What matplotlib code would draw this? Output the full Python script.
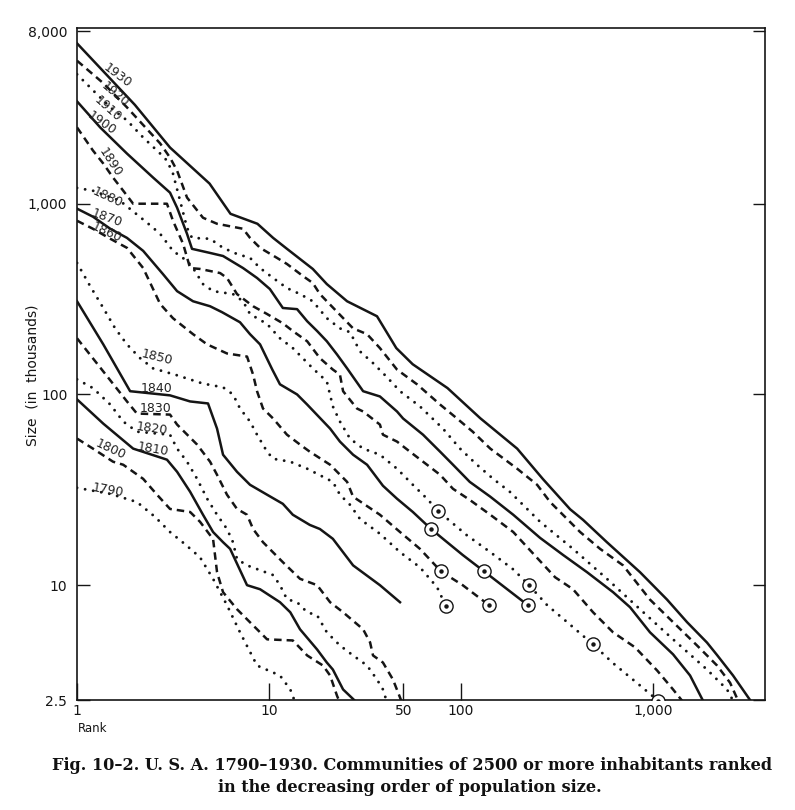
import matplotlib
matplotlib.use('Agg')
import matplotlib.pyplot as plt
from matplotlib.ticker import FixedLocator, FixedFormatter, NullLocator

# rank of community / size in thousands
rank_1930 = [1, 2.0, 3.05, 4.9, 6.3, 8.7, 10.5, 12.4, 16.9, 20, 25.5, 36.5, 46, 56, 85, 126, 196, 267,
             370, 432, 575, 855, 1183, 1503, 1910, 2155, 2610, 3200]
size_1930 = [6930, 3300, 1970, 1275, 885, 785, 662, 580, 455, 379, 308, 257, 175, 144, 108, 75, 52, 36,
             25, 22, 16.8, 11.7, 8.4, 6.4, 5.0, 4.3, 3.36, 2.5]

rank_1920 = [1, 1.37, 1.82, 2.71, 3.05, 3.32, 3.74, 4.53, 5.36, 7.32, 7.96, 8.98, 11.0, 12.4, 15.0, 16.9,
             18.4, 20.0, 27.4, 32.4, 37.8, 46.4, 59.0, 77.8, 95.3, 115, 142, 196, 249, 291, 328, 417, 530,
             698, 964, 1271, 1694, 2155, 2518, 2773]
size_1920 = [5620, 4285, 3200, 2070, 1745, 1490, 1077, 844, 785, 739, 662, 587, 520, 483, 418, 384,
             336, 308, 222, 207, 175, 135, 113, 88.5, 74.8, 63.8, 52, 40.8, 33.6, 27.3, 24.2, 19.0, 15.5,
             12.7, 8.4, 6.4, 4.83, 3.79, 3.08, 2.48]

rank_1910 = [1, 1.21, 1.49, 1.82, 2.21, 2.71, 2.94, 3.16, 3.44, 3.74, 3.97, 4.93, 5.76, 6.81, 7.96, 8.98,
             10.5, 12.4, 14.5, 16.9, 20.0, 23.4, 26.4, 29.8, 34.8, 41.2, 48.1, 61.1, 80.5, 98.8, 121, 147,
             180, 210, 258, 383, 575, 855, 1271, 1910, 2428, 2610]
size_1910 = [4770, 3935, 3200, 2735, 2225, 1832, 1683, 1438, 1038, 748, 662, 655, 587, 545, 520, 460,
             408, 361, 336, 308, 251, 222, 212, 168, 146, 123, 104, 86.5, 66.2, 52, 42.8, 36.1,
             30.8, 26.4, 21.5, 15.5, 10.8, 7.48, 5.2, 3.61, 2.84, 2.48]

rank_1900 = [1, 1.32, 1.82, 2.49, 3.05, 3.32, 3.74, 3.97, 4.93, 5.76, 7.32, 8.66, 10.1, 11.8, 14.0, 15.8,
             17.8, 20.0, 22.6, 25.5, 30.9, 37.8, 46.4, 49.9, 63.4, 77.8, 90.8, 111, 142, 187, 258, 340,
             453, 619, 759, 964, 1271, 1559, 1820]
size_1900 = [3440, 2512, 1832, 1371, 1143, 953, 695, 580, 552, 532, 460, 408, 357, 284, 280, 242,
             215, 190, 162, 137, 104, 97.6, 81.4, 74.8, 61.5, 50.1, 42.8, 34.8, 29.1, 23.4, 17.7, 14.4,
             11.7, 9.19, 7.66, 5.66, 4.34, 3.36, 2.48]

rank_1890 = [1, 1.21, 1.37, 1.54, 1.74, 1.96, 2.94, 3.16, 3.57, 3.88, 4.37, 5.56, 6.04, 6.81, 8.26, 9.77,
             11.8, 13.3, 15.8, 18.4, 21.5, 23.4, 24.3, 28.7, 30.9, 37.8, 39.2, 46.4, 54.2, 66.5, 77.8,
             90.8, 111, 142, 187, 249, 309, 383, 487, 619, 806, 1050, 1271, 1416]
size_1890 = [2512, 1901, 1624, 1371, 1170, 1000, 1000, 814, 615, 460, 455, 433, 408, 336, 290, 264,
             236, 215, 190, 155, 135, 127, 104, 84.4, 81.4, 69.5, 61.5, 56.6, 50.1, 42.8, 37.9,
             32, 28, 23.4, 19.0, 13.9, 11.0, 9.52, 7.21, 5.66, 4.72, 3.57, 2.84, 2.48]

rank_1880 = [1, 1.21, 1.67, 2.32, 2.71, 3.16, 3.74, 4.02, 4.53, 5.11, 6.49, 7.32, 7.96, 9.77, 11.4, 13.3,
             16.9, 20.0, 21.5, 23.4, 26.4, 30.9, 37.8, 46.4, 56.1, 66.5, 75.9, 107, 142, 187, 226, 281,
             357, 487, 619, 855, 1062]
size_1880 = [1210, 1170, 1038, 794, 695, 566, 501, 460, 379, 348, 336, 308, 264, 234, 197, 175,
             137, 117, 86.5, 72.1, 58.7, 52, 48.3, 40.8, 33.6, 28.4, 24.5, 18.3, 14.9, 12.1, 10, 7.85,
             6.4, 4.89, 3.9, 2.98, 2.48]

rank_1870 = [1, 1.21, 1.49, 1.82, 2.21, 2.80, 3.32, 4.02, 4.93, 5.69, 7.06, 7.96, 8.98, 10.4, 11.4, 14.0,
             15.8, 20.8, 23.4, 27.4, 32.4, 39.2, 46.4, 56.1, 69.8, 84.6, 102, 132, 174, 223]
size_1870 = [942, 855, 739, 662, 566, 428, 348, 308, 290, 270, 239, 207, 183, 135, 113, 100,
             88.5, 66.2, 56.6, 48.3, 42.8, 33.2, 28.4, 24.2, 19.7, 16.8, 14.4, 11.8, 9.52, 7.85]

rank_1860 = [1, 1.21, 1.49, 1.82, 2.21, 2.71, 3.16, 4.02, 4.76, 6.04, 7.68, 8.26, 8.66, 9.30, 10.5, 12.4,
             14.5, 16.3, 20.8, 25.5, 27.4, 37.8, 48.1, 61.1, 78.7, 102, 140]
size_1860 = [814, 739, 655, 587, 460, 298, 251, 207, 183, 164, 158, 127, 104, 84.4, 74.8, 61.5,
             54.6, 50.1, 42.8, 34.8, 29.1, 23.4, 19.0, 15.5, 11.8, 10, 7.85]

rank_1850 = [1, 1.17, 1.37, 1.58, 1.82, 2.13, 2.49, 3.32, 4.53, 5.76, 6.49, 7.06, 7.96, 8.66, 9.77, 10.5,
             12.9, 15.8, 21.5, 23.4, 26.4, 29.8, 37.8, 48.1, 61.1, 75.0, 83.5]
size_1850 = [489, 370, 284, 222, 183, 155, 137, 126, 114, 109, 100, 84.4, 72.1, 61.5, 50.1, 46.0,
             44.4, 40.8, 34.8, 29.8, 26.4, 22.2, 18.6, 14.9, 12.4, 9.76, 7.75]

rank_1840 = [1, 1.37, 1.89, 3.05, 3.88, 4.81, 5.36, 5.76, 6.81, 7.96, 9.77, 11.8, 13.3, 16.3, 18.4, 21.5,
             27.4, 37.8, 48.1]
size_1840 = [308, 183, 104, 98.9, 91.9, 89.7, 66.2, 48.3, 39.3, 33.6, 29.8, 26.7, 23.4, 20.7, 19.7, 17.5,
             12.7, 10, 8.14]

rank_1830 = [1, 1.37, 1.82, 2.05, 3.05, 3.32, 4.22, 4.93, 5.36, 6.04, 6.81, 7.68, 8.26, 9.30, 11.8, 14.5,
             17.8, 20.8, 24.3, 30.9, 33.6, 34.8, 39.2, 44.2, 49.3]
size_1830 = [197, 132, 91.9, 79.4, 78.4, 69.5, 54.6, 44.4, 37.9, 29.8, 25.1, 23.4, 19.7, 16.8, 13.2, 10.8,
             10, 8.14, 7.21, 5.87, 5.01, 4.28, 3.93, 3.2, 2.42]

rank_1820 = [1, 1.21, 1.49, 1.74, 2.05, 3.05, 3.32, 3.74, 4.22, 4.76, 5.36, 6.04, 6.49, 6.81, 7.68, 10.5,
             11.4, 12.4, 14.0, 15.8, 17.8, 20.0, 23.4, 27.4, 32.4, 36.5, 39.2, 41.2]
size_1820 = [120, 108, 88.5, 72.1, 63.8, 61.5, 52, 44.4, 36.1, 28.4, 23.4, 19.7, 16.8, 13.7, 12.7, 11.3,
             10, 8.44, 8.14, 7.21, 6.95, 5.66, 4.83, 4.28, 3.79, 3.2, 2.84, 2.42]

rank_1810 = [1, 1.37, 1.96, 2.94, 3.32, 3.88, 4.53, 5.11, 5.76, 6.27, 7.68, 8.98, 11.4, 12.9, 14.5, 17.8,
             20.0, 21.5, 24.3, 28.7]
size_1810 = [94.2, 70.3, 52, 45.5, 39.3, 30.9, 23.4, 19.0, 16.8, 15.5, 10, 9.52, 8.14, 7.21, 5.87, 4.6,
             3.93, 3.61, 2.84, 2.42]

rank_1800 = [1, 1.21, 1.54, 1.74, 2.21, 2.61, 3.05, 3.88, 4.37, 4.93, 5.11, 5.36, 5.76, 6.81, 7.96, 9.77,
             13.3, 15.8, 19.1, 20.8, 22.6, 23.4]
size_1800 = [58.7, 52, 44.4, 42.8, 36.1, 29.8, 25.1, 24.2, 21.5, 18.3, 17.5, 11.7, 9.19, 7.48, 6.39, 5.2,
             5.13, 4.28, 3.79, 3.36, 2.63, 2.42]

rank_1790 = [1, 1.49, 2.05, 2.55, 3.05, 3.65, 4.37, 5.11, 6.04, 7.06, 8.66, 11.4, 12.9, 13.7]
size_1790 = [32.4, 30.1, 27.3, 22.8, 19.0, 16.4, 14.0, 10.8, 7.85, 5.66, 3.79, 3.36, 2.84, 2.42]

# circled points on the 1850-1880 curves
circle_rank = [75.9, 226, 487, 1062, 69.8, 132, 223, 78.7, 140, 83.5]
circle_size = [24.5, 10, 4.89, 2.48, 19.7, 11.8, 7.85, 11.8, 7.85, 7.75]

x_ticks = [1, 10, 50, 100, 1000]
x_ticklabels = ['1', '10', '50', '100', '1,000']
y_ticks = [2.5, 10, 100, 1000, 8000]
y_ticklabels = ['2.5', '10', '100', '1,000', '8,000']

series = [
    (1930, rank_1930, size_1930), (1920, rank_1920, size_1920), (1910, rank_1910, size_1910),
    (1900, rank_1900, size_1900), (1890, rank_1890, size_1890), (1880, rank_1880, size_1880),
    (1870, rank_1870, size_1870), (1860, rank_1860, size_1860), (1850, rank_1850, size_1850),
    (1840, rank_1840, size_1840), (1830, rank_1830, size_1830), (1820, rank_1820, size_1820),
    (1810, rank_1810, size_1810), (1800, rank_1800, size_1800), (1790, rank_1790, size_1790),
]

# where the year is written on each curve: (rank, size, rotation)
year_labels = {
    1930: (1.62, 4700, -37), 1920: (1.58, 3750, -40), 1910: (1.45, 3150, -42),
    1900: (1.35, 2640, -35), 1890: (1.49, 1645, -57), 1880: (1.45, 1077, -25),
    1870: (1.43, 844, -20), 1860: (1.43, 703, -25), 1850: (2.61, 157, -14),
    1840: (2.58, 108, 0), 1830: (2.55, 84.4, 0), 1820: (2.46, 66.2, -8),
    1810: (2.49, 51.4, -10), 1800: (1.49, 51.4, -25), 1790: (1.45, 31.6, -10),
}

ink = '#151515'
fig = plt.figure(figsize=(7.95, 8.10), dpi=100)
ax = fig.add_axes([0.0969, 0.1358, 0.8654, 0.8296])

for i, (year, r, s) in enumerate(series):
    kind = i % 3
    if kind == 0:
        ax.plot(r, s, color=ink, lw=1.8, solid_joinstyle='round')
    elif kind == 1:
        ax.plot(r, s, color=ink, lw=1.8, linestyle=(0, (3.0, 2.0)))
    else:
        ax.plot(r, s, color=ink, lw=2.1, linestyle=(0, (0.01, 2.8)), dash_capstyle='round')
    lx, ly, rot = year_labels[year]
    ax.text(lx, ly, str(year), fontsize=9, color='#222222', rotation=rot,
            ha='center', va='center', rotation_mode='anchor')

ax.plot(circle_rank, circle_size, 'o', ms=9.5, mfc='white', mec=ink, mew=1.0, zorder=5)
ax.plot(circle_rank, circle_size, 'o', ms=2.2, color=ink, zorder=6)

ax.set_xscale('log')
ax.set_yscale('log')
ax.set_xlim(1, 3830)
ax.set_ylim(2.5, 8340)

ax.xaxis.set_major_locator(FixedLocator(x_ticks))
ax.xaxis.set_major_formatter(FixedFormatter(x_ticklabels))
ax.xaxis.set_minor_locator(NullLocator())
ax.yaxis.set_major_locator(FixedLocator(y_ticks))
ax.yaxis.set_major_formatter(FixedFormatter(y_ticklabels))
ax.yaxis.set_minor_locator(NullLocator())

ax.tick_params(axis='x', direction='in', length=12, width=1.0, pad=3, labelsize=10, colors=ink)
ax.tick_params(axis='y', direction='in', length=9, width=1.0, pad=7, labelsize=10, colors=ink,
               right=True)
for sp in ax.spines.values():
    sp.set_linewidth(1.2)
    sp.set_color(ink)

fig.text(78 / 795, 1 - 728 / 810, 'Rank', fontsize=8.5, color=ink, ha='left', va='center')
fig.text(33 / 795, 1 - 375 / 810, 'Size  (in  thousands)', fontsize=10, color=ink,
         rotation=90, ha='center', va='center')

cap_font = dict(family='DejaVu Serif', fontsize=11.6, fontweight='bold', color='#111111',
                ha='center', va='center')
fig.text(0.518, 1 - 765 / 810,
         'Fig. 10\u20132. U. S. A. 1790\u20131930. Communities of 2500 or more inhabitants ranked',
         **cap_font)
fig.text(0.516, 1 - 788 / 810, 'in the decreasing order of population size.', **cap_font)

fig.savefig('out.png', dpi=100, facecolor='white')
